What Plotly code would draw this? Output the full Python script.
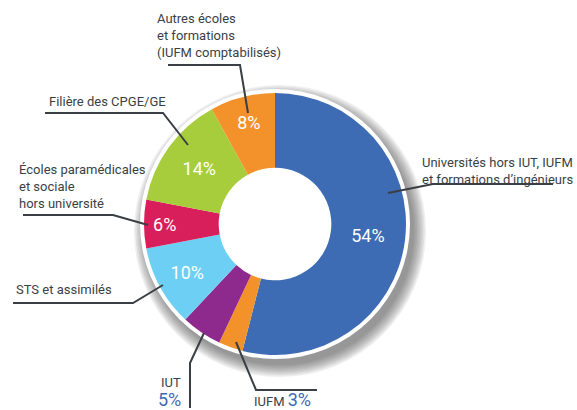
import plotly.graph_objects as go

W, H = 577, 410

# data, clockwise from 12 o'clock
categories = ["Universités hors IUT, IUFM et formations d'ingénieurs", "IUFM", "IUT",
              "STS et assimilés", "Écoles paramédicales et sociale hors université",
              "Filière des CPGE/GE", "Autres écoles et formations (IUFM comptabilisés)"]
shares = [54, 3, 5, 10, 6, 14, 8]
colors = ["#3d6cb4", "#f3922a", "#8e2a8d", "#6dcff3", "#d81e5b", "#a7cd3c", "#f3922a"]
inside = [True, False, False, True, True, True, True]

def px(x):
    return x / W

def py(y):
    return 1 - y / H

fig = go.Figure(go.Pie(
    labels=categories,
    values=shares,
    sort=False,
    direction="clockwise",
    rotation=0,
    hole=0.43,
    marker=dict(colors=colors, line=dict(width=0)),
    texttemplate=["%{value}%" if s else "" for s in inside],
    textposition="inside",
    insidetextorientation="horizontal",
    textfont=dict(color="white", size=18, family="Roboto"),
    showlegend=False,
    domain=dict(x=[px(144), px(406)], y=[py(355), py(93)]),
))

shapes = []
# soft drop shadow + white ring behind the donut
cx, cy, r = 275, 224, 131
for i in range(9):
    rr = r + 3 + i * 1.5
    ox, oy = 5, 7
    shapes.append(dict(type="circle", xref="paper", yref="paper", layer="below",
                       x0=px(cx + ox - rr), x1=px(cx + ox + rr),
                       y0=py(cy + oy + rr), y1=py(cy + oy - rr),
                       fillcolor="rgba(80,80,80,0.09)", line=dict(width=0)))
shapes.append(dict(type="circle", xref="paper", yref="paper", layer="below",
                   x0=px(cx - r - 4), x1=px(cx + r + 4),
                   y0=py(cy + r + 4), y1=py(cy - r - 4),
                   fillcolor="white", line=dict(width=0)))

# leader lines (pixel polylines)
leaders = [
    [(388, 193), (433, 184), (553, 184)],
    [(236, 342), (256, 390), (317, 390)],
    [(204, 333), (190, 363), (190, 408)],
    [(163, 285), (133, 303), (13, 303)],
    [(148, 225), (113, 215), (23, 215)],
    [(188, 145), (163, 113), (45, 113)],
    [(248, 113), (240, 65), (168, 65)],
]
for pts in leaders:
    path = "M " + " L ".join(f"{px(x)},{py(y)}" for x, y in pts)
    shapes.append(dict(type="path", xref="paper", yref="paper", path=path,
                       line=dict(color="#3a3f45", width=2)))

lab = dict(family="Roboto", size=13, color="#3a3f45")
blue = dict(family="Roboto", size=18, color="#3d6cb4")
ann = [
    (420, 171, "Universités hors IUT, IUFM<br>et formations d’ingénieurs", "left", lab),
    (155, 36, "Autres écoles<br>et formations<br>(IUFM comptabilisés)", "left", lab),
    (47, 101, "Filière des CPGE/GE", "left", lab),
    (17, 187, "Écoles paramédicales<br>et sociale<br>hors université", "left", lab),
    (14, 289, "STS et assimilés", "left", lab),
]
annotations = []
for x, y, t, al, f in ann:
    annotations.append(dict(x=px(x), y=py(y), xref="paper", yref="paper", text=t,
                            showarrow=False, xanchor="left", yanchor="middle",
                            align=al, font=f))
annotations += [
    dict(x=px(183), y=py(382), xref="paper", yref="paper", text="IUT", showarrow=False,
         xanchor="right", yanchor="middle", font=lab),
    dict(x=px(183), y=py(399), xref="paper", yref="paper", text="5%", showarrow=False,
         xanchor="right", yanchor="middle", font=blue),
    dict(x=px(252), y=py(399), xref="paper", yref="paper",
         text="IUFM <span style='font-size:18px;color:#3d6cb4'>3%</span>",
         showarrow=False, xanchor="left", yanchor="middle", font=lab),
]

fig.update_layout(width=W, height=H, margin=dict(l=0, r=0, t=0, b=0),
                  paper_bgcolor="white", plot_bgcolor="white",
                  shapes=shapes, annotations=annotations)
fig.write_html("out.html", config={"displayModeBar": False},
               post_script="document.body.style.margin='0';")
